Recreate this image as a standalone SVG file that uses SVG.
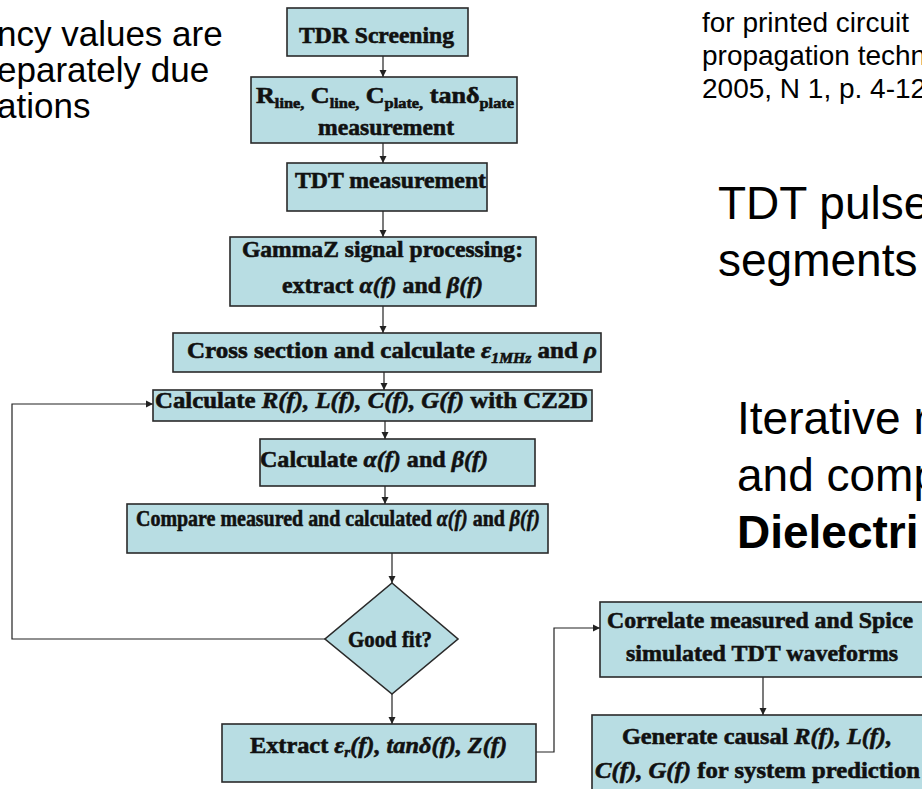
<svg xmlns="http://www.w3.org/2000/svg" width="922" height="789" viewBox="0 0 922 789">
<style>
.bx{fill:#b8dde3;stroke:#2a2a2a;stroke-width:1.6}
.ft{font-family:"Liberation Serif",serif;font-weight:bold;font-size:24px;fill:#111;stroke:#111;stroke-width:0.6}
.it{font-style:italic}
.sb{font-size:15px}
.cn{fill:none;stroke:#222;stroke-width:1.2}
.big{font-family:"Liberation Sans",Arial,sans-serif;font-size:46px;fill:#000}
.cit{font-family:"Liberation Sans",Arial,sans-serif;font-size:28px;fill:#000}
.tl{font-family:"Liberation Sans",Arial,sans-serif;font-size:35px;fill:#000}
</style>
<defs>
<marker id="ah" markerUnits="userSpaceOnUse" markerWidth="8" markerHeight="8" refX="7" refY="4" orient="auto">
<path d="M0,0.5 L7,4 L0,7.5 z" fill="#222"/>
</marker>
</defs>
<rect width="922" height="789" fill="#fff"/>

<g id="side-text">
<text class="tl" x="-3" y="46">ncy values are</text>
<text class="tl" x="-3" y="82">eparately due</text>
<text class="tl" x="-3" y="118">ations</text>
<text class="cit" x="702" y="32">for printed circuit</text>
<text class="cit" x="702" y="65">propagation techn</text>
<text class="cit" x="702" y="98">2005, N 1, p. 4-12</text>
<text class="big" x="718" y="219">TDT pulse</text>
<text class="big" x="718" y="276">segments</text>
<text class="big" x="737" y="434">Iterative r</text>
<text class="big" x="737" y="491">and comp</text>
<text class="big" x="737" y="548" font-weight="bold">Dielectri</text>
</g>

<g id="connectors">
<line class="cn" x1="383" y1="56" x2="383" y2="77" marker-end="url(#ah)"/>
<line class="cn" x1="383" y1="143" x2="383" y2="163" marker-end="url(#ah)"/>
<line class="cn" x1="383" y1="211" x2="383" y2="237" marker-end="url(#ah)"/>
<line class="cn" x1="383" y1="306" x2="383" y2="333" marker-end="url(#ah)"/>
<line class="cn" x1="384" y1="372" x2="384" y2="390" marker-end="url(#ah)"/>
<line class="cn" x1="385" y1="421" x2="385" y2="439" marker-end="url(#ah)"/>
<line class="cn" x1="385" y1="486" x2="385" y2="504" marker-end="url(#ah)"/>
<line class="cn" x1="392" y1="553" x2="392" y2="583" marker-end="url(#ah)"/>
<line class="cn" x1="392" y1="694" x2="392" y2="724" marker-end="url(#ah)"/>
<polyline class="cn" points="325,639 12,639 12,404 153,404" marker-end="url(#ah)"/>
<polyline class="cn" points="536,752 554,752 554,628 600,628" marker-end="url(#ah)"/>
<line class="cn" x1="763" y1="677" x2="763" y2="715" marker-end="url(#ah)"/>
</g>

<g id="n1"><rect class="bx" x="287" y="8" width="181" height="48"/>
<text class="ft" x="299" y="43" textLength="155" lengthAdjust="spacingAndGlyphs">TDR Screening</text></g>

<g id="n2"><rect class="bx" x="251" y="77" width="266" height="66"/>
<text class="ft" x="256" y="103" textLength="258" lengthAdjust="spacingAndGlyphs">R<tspan class="sb" dy="5">line,</tspan><tspan dy="-5"> C</tspan><tspan class="sb" dy="5">line,</tspan><tspan dy="-5"> C</tspan><tspan class="sb" dy="5">plate,</tspan><tspan dy="-5"> tanδ</tspan><tspan class="sb" dy="5">plate</tspan></text>
<text class="ft" x="318" y="135" textLength="136" lengthAdjust="spacingAndGlyphs">measurement</text></g>

<g id="n3"><rect class="bx" x="287" y="163" width="200" height="48"/>
<text class="ft" x="295" y="188" textLength="191" lengthAdjust="spacingAndGlyphs">TDT measurement</text></g>

<g id="n4"><rect class="bx" x="230" y="237" width="306" height="69"/>
<text class="ft" x="242" y="257" textLength="281" lengthAdjust="spacingAndGlyphs">GammaZ signal processing:</text>
<text class="ft" x="282" y="293" textLength="201" lengthAdjust="spacingAndGlyphs">extract <tspan class="it">α(f)</tspan> and <tspan class="it">β(f)</tspan></text></g>

<g id="n5"><rect class="bx" x="173" y="333" width="428" height="39"/>
<text class="ft" x="187" y="358" textLength="410" lengthAdjust="spacingAndGlyphs">Cross section and calculate <tspan class="it">ε</tspan><tspan class="sb it" dy="5">1MHz</tspan><tspan dy="-5"> and </tspan><tspan class="it">ρ</tspan></text></g>

<g id="n6"><rect class="bx" x="153" y="390" width="439" height="31"/>
<text class="ft" x="155" y="408" textLength="433" lengthAdjust="spacingAndGlyphs">Calculate <tspan class="it">R(f), L(f), C(f), G(f)</tspan> with CZ2D</text></g>

<g id="n7"><rect class="bx" x="260" y="439" width="275" height="47"/>
<text class="ft" x="260" y="467" textLength="228" lengthAdjust="spacingAndGlyphs">Calculate <tspan class="it">α(f)</tspan> and <tspan class="it">β(f)</tspan></text></g>

<g id="n8"><rect class="bx" x="127" y="504" width="421" height="49"/>
<text class="ft" x="136" y="526" textLength="404" lengthAdjust="spacingAndGlyphs">Compare measured and calculated <tspan class="it">α(f)</tspan> and <tspan class="it">β(f)</tspan></text></g>

<g id="n9"><polygon class="bx" points="392,583 458,639 392,694 325,639"/>
<text class="ft" x="348" y="647" font-size="21" textLength="84" lengthAdjust="spacingAndGlyphs">Good fit?</text></g>

<g id="n10"><rect class="bx" x="222" y="724" width="314" height="58"/>
<text class="ft" x="250" y="753" textLength="257" lengthAdjust="spacingAndGlyphs">Extract <tspan class="it">ε</tspan><tspan class="sb it" dy="4">r</tspan><tspan class="it" dy="-4">(f), tanδ(f), Z(f)</tspan></text></g>

<g id="n11"><rect class="bx" x="600" y="602" width="330" height="75"/>
<text class="ft" x="607" y="628" textLength="306" lengthAdjust="spacingAndGlyphs">Correlate measured and Spice</text>
<text class="ft" x="626" y="661" textLength="272" lengthAdjust="spacingAndGlyphs">simulated TDT waveforms</text></g>

<g id="n12"><rect class="bx" x="592" y="715" width="340" height="90"/>
<text class="ft" x="622" y="744" textLength="270" lengthAdjust="spacingAndGlyphs">Generate causal <tspan class="it">R(f), L(f),</tspan></text>
<text class="ft" x="595" y="778" textLength="325" lengthAdjust="spacingAndGlyphs"><tspan class="it">C(f), G(f)</tspan> for system prediction</text></g>
</svg>
